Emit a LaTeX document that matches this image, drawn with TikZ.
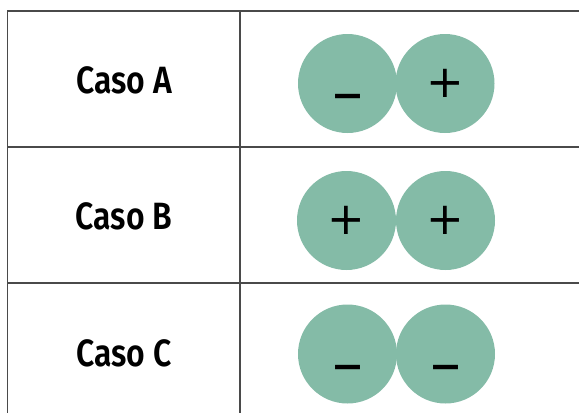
\documentclass[tikz,border=0pt]{standalone}
\usepackage{fontspec}
\newfontfamily\casofont[FakeStretch=0.84]{Fira Sans SemiBold}
\newfontfamily\signfont{DejaVu Sans}
\definecolor{ionfill}{HTML}{84BBA7}
\definecolor{rule}{HTML}{4A4A4A}
\begin{document}
\begin{tikzpicture}[x=1pt,y=-1pt,
  gridline/.style={draw=rule,line width=1.1pt},
  caselabel/.style={anchor=base,inner sep=0pt,font=\casofont\fontsize{38}{38}\selectfont},
  ion/.style={circle,fill=ionfill,minimum size=99pt,inner sep=0pt},
  plus/.style={anchor=base,inner sep=0pt,font=\signfont\fontsize{45}{45}\selectfont},
  minus/.style={anchor=base,inner sep=0pt,font=\signfont\fontsize{62}{62}\selectfont}]
\useasboundingbox (0,0) rectangle (579,413);
% table rules
\coordinate (tl) at (7.5,11);
\coordinate (tr) at (579,11);
\coordinate (bl) at (7.5,413);
\coordinate (mt) at (240,11);
\coordinate (mb) at (240,413);
\coordinate (r1l) at (7.5,147);
\coordinate (r1r) at (579,147);
\coordinate (r2l) at (7.5,283);
\coordinate (r2r) at (579,283);
\draw[gridline] (tr) -- (tl) -- (bl);
\draw[gridline] (mt) -- (mb);
\draw[gridline] (r1l) -- (r1r);
\draw[gridline] (r2l) -- (r2r);
% row labels
\node[caselabel] (la) at (124,93.3) {Caso A};
\node[caselabel] (lb) at (124,229.3) {Caso B};
\node[caselabel] (lc) at (124,366) {Caso C};
% ion pairs
\node[ion] (a1) at (347.5,83.5) {};
\node[ion] (a2) at (445,83.5) {};
\node[ion] (b1) at (346.5,220.5) {};
\node[ion] (b2) at (445.5,220.5) {};
\node[ion] (c1) at (347.5,354) {};
\node[ion] (c2) at (445.5,354) {};
% charges (plus centred, minus set low in the circle)
\node[minus] (sa1) at ([yshift=-30.2pt]a1.center) {–};
\node[plus] (sa2) at ([yshift=-14.4pt]a2.center) {+};
\node[plus] (sb1) at ([yshift=-14.4pt]b1.center) {+};
\node[plus] (sb2) at ([yshift=-14.4pt]b2.center) {+};
\node[minus] (sc1) at ([yshift=-30.2pt]c1.center) {–};
\node[minus] (sc2) at ([yshift=-30.2pt]c2.center) {–};
\end{tikzpicture}
\end{document}
